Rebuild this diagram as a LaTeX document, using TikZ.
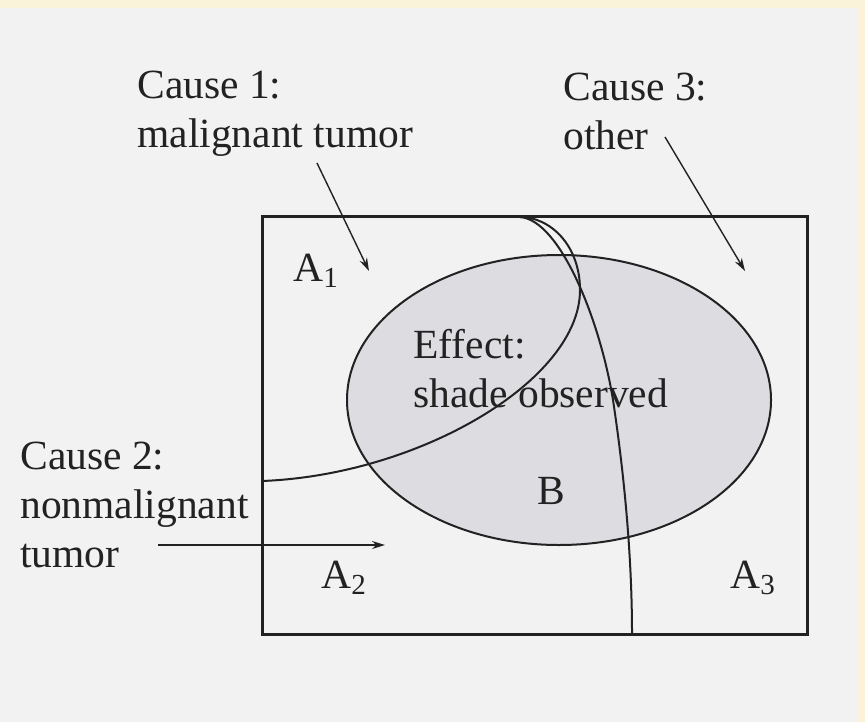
\documentclass[tikz,border=0pt]{standalone}
\usepackage{fontspec}
\setmainfont{Liberation Serif}
\usetikzlibrary{arrows.meta}
\definecolor{bggray}{HTML}{F2F2F2}
\definecolor{framecream}{HTML}{FBF2DA}
\definecolor{effectgray}{HTML}{DDDDE1}
\definecolor{inkgray}{HTML}{222222}
\tikzset{
  lbl/.style    ={anchor=base west, inner sep=0pt, align=left, font=\fontsize{20.75}{24.5}\selectfont, text=inkgray},
  region/.style ={anchor=base west, inner sep=0pt, font=\fontsize{20.75}{24.5}\selectfont, text=inkgray},
  frame/.style  ={draw=inkgray, line width=1.5pt},
  bound/.style  ={draw=inkgray, line width=1pt},
  arr/.style    ={-{Stealth[length=6.5pt, width=4pt]}, line width=0.7pt, draw=inkgray},
}
\begin{document}
\begin{tikzpicture}[x=0.5pt, y=-0.5pt]
  \fill[framecream] (0,0) rectangle (865,722);
  \fill[bggray] (0,8) rectangle (858,722);
  \useasboundingbox (0,0) rectangle (865,722);
  % effect B and the partition A1, A2, A3
  \draw[bound, fill=effectgray] (559,400) ellipse [x radius=212, y radius=145];
  \draw[bound] (262,481) .. controls (420,475) and (580,380) .. (580,290)
               .. controls (580,245) and (550,217) .. (520,217);
  \draw[bound] (520,217) .. controls (560,220) and (600,320) .. (613,400)
               .. controls (625,480) and (632,560) .. (632,634);
  \draw[frame] (262,216) rectangle (807,634);
  % labels (base = last line)
  \node[lbl] (cause1) at (137,147) {Cause 1:\\malignant tumor};
  \node[lbl] (cause3) at (563,149) {Cause 3:\\other};
  \node[lbl] (cause2) at (20,567) {Cause 2:\\nonmalignant\\tumor};
  \node[lbl] (effect) at (413,407) {Effect:\\shade observed};
  \node[region] (a1) at (293,281) {A\textsubscript{1}};
  \node[region] (a2) at (321,588) {A\textsubscript{2}};
  \node[region] (a3) at (730,588) {A\textsubscript{3}};
  \node[region] (b) at (537,504) {B};
  % arrows
  \coordinate (c1from) at (317,163);
  \coordinate (c1to) at (369,271);
  \coordinate (c3from) at (665,137);
  \coordinate (c3to) at (745,271);
  \coordinate (c2from) at (158,545);
  \coordinate (c2to) at (385,545);
  \draw[arr] (c1from) -- (c1to);
  \draw[arr] (c3from) -- (c3to);
  \draw[arr] (c2from) -- (c2to);
\end{tikzpicture}
\end{document}
